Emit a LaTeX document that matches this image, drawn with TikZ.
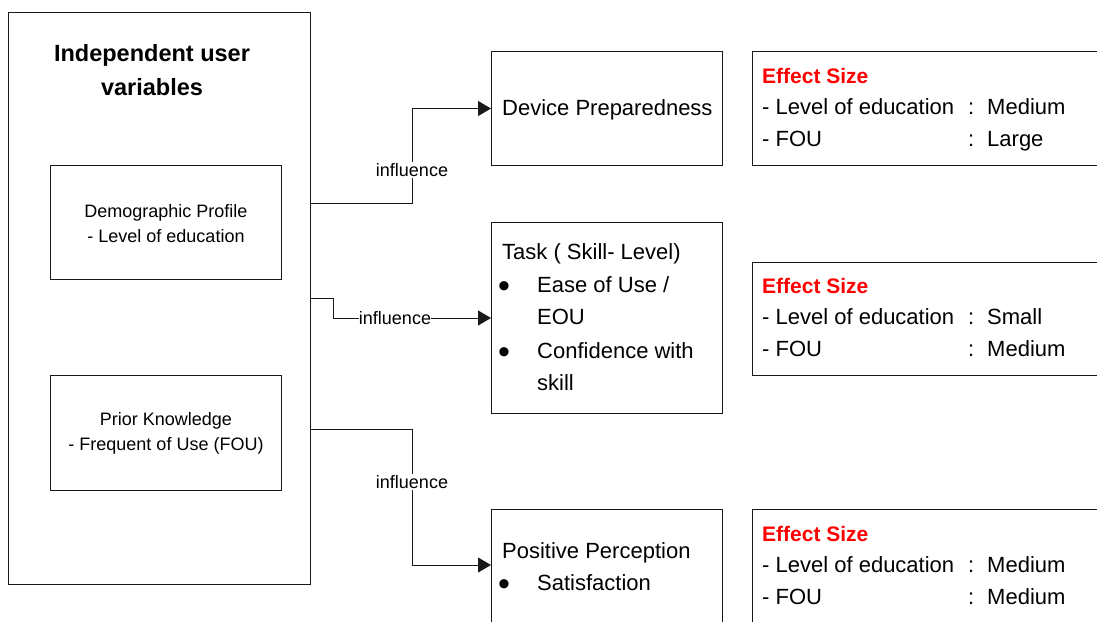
\documentclass[tikz,border=0pt]{standalone}
\usepackage{fontspec}
\setmainfont{Liberation Sans}
\usetikzlibrary{arrows.meta}
\begin{document}
\begin{tikzpicture}[x=1pt,y=-1pt,
  box/.style={draw=black!90,line width=1pt,anchor=north west,inner sep=0pt},
  body/.style={font=\fontsize{22}{32}\selectfont,anchor=west,inner sep=0pt,text height=16pt,text depth=5pt,yshift=-2pt},
  dot/.style={font=\fontsize{34}{34}\selectfont,anchor=west,inner sep=0pt,text height=16pt,text depth=5pt,yshift=-7pt},
  small/.style={font=\fontsize{18}{25}\selectfont,align=center,inner sep=0pt},
  lbl/.style={font=\fontsize{18}{22}\selectfont,fill=white,inner sep=1pt},
  link/.style={draw=black!90,line width=1pt},
  arr/.style={link,-{Triangle[length=13pt,width=15pt]}},
  head/.style={font=\fontsize{21}{32}\selectfont\bfseries,text=red,anchor=west,inner sep=0pt,text height=16pt,text depth=5pt,yshift=-2pt}
]
\useasboundingbox (0,0) rectangle (1097,621);
\clip (0,0) rectangle (1097,621);

% boxes
\node[box,minimum width=302,minimum height=572] (outer) at (8,12) {};
\node[box,minimum width=231,minimum height=114] (demo) at (50,165) {};
\node[box,minimum width=231,minimum height=115] (prior) at (50,375) {};
\node[box,minimum width=231,minimum height=114] (dev) at (491,51) {};
\node[box,minimum width=231,minimum height=191] (task) at (491,222) {};
\node[box,minimum width=231,minimum height=114] (pos) at (491,509) {};
\node[box,minimum width=400,minimum height=114] (eff1) at (752,51) {};
\node[box,minimum width=400,minimum height=113] (eff2) at (752,262) {};
\node[box,minimum width=400,minimum height=130] (eff3) at (752,509) {};

% left column text
\node[font=\fontsize{23.5}{34}\selectfont\bfseries,align=center,inner sep=0pt] (title) at (152,70) {Independent user\\variables};
\node[small] (demotxt) at (166,224) {Demographic Profile\\- Level of education};
\node[small] (priortxt) at (166,433) {Prior Knowledge\\- Frequent of Use (FOU)};

% middle column text
\node[body] (devtxt) at (502,108) {Device Preparedness};
\node[body] (tasktxt) at (502,252) {Task ( Skill- Level)};
\node[dot] (b1) at (498,285) {•};
\node[body] (t1) at (537,285) {Ease of Use /};
\node[body] (t1b) at (537,317) {EOU};
\node[dot] (b2) at (498,351) {•};
\node[body] (t2) at (537,351) {Confidence with};
\node[body] (t2b) at (537,383) {skill};
\node[body] (postxt) at (502,551) {Positive Perception};
\node[dot] (b3) at (498,583) {•};
\node[body] (p1) at (537,583) {Satisfaction};

% effect size text
\node[head] (h1) at (762,76) {Effect Size};
\node[body] (l1a) at (762,107) {- Level of education};
\node[body] (c1a) at (968,107) {:};
\node[body] (v1a) at (987,107) {Medium};
\node[body] (l1b) at (762,139) {- FOU};
\node[body] (c1b) at (968,139) {:};
\node[body] (v1b) at (987,139) {Large};

\node[head] (h2) at (762,286) {Effect Size};
\node[body] (l2a) at (762,317) {- Level of education};
\node[body] (c2a) at (968,317) {:};
\node[body] (v2a) at (987,317) {Small};
\node[body] (l2b) at (762,349) {- FOU};
\node[body] (c2b) at (968,349) {:};
\node[body] (v2b) at (987,349) {Medium};

\node[head] (h3) at (762,534) {Effect Size};
\node[body] (l3a) at (762,565) {- Level of education};
\node[body] (c3a) at (968,565) {:};
\node[body] (v3a) at (987,565) {Medium};
\node[body] (l3b) at (762,597) {- FOU};
\node[body] (c3b) at (968,597) {:};
\node[body] (v3b) at (987,597) {Medium};

% connectors
\coordinate (s1) at (0,203);
\coordinate (s2) at (0,298);
\coordinate (s3) at (0,429);
\coordinate (e3) at (0,565);
\draw[arr] (outer.east |- s1) -| ([xshift=-79pt]dev.west) -- (dev.west);
\draw[arr] (outer.east |- s2) -- ++(22,0) |- (task.west);
\draw[arr] (outer.east |- s3) -| ([xshift=-79pt]pos.west |- e3) -- (pos.west |- e3);

\node[lbl] (i1) at (412,170) {influence};
\node[lbl,inner sep=0pt] (i2) at (395,318) {influence};
\node[lbl] (i3) at (412,482) {influence};
\end{tikzpicture}
\end{document}
